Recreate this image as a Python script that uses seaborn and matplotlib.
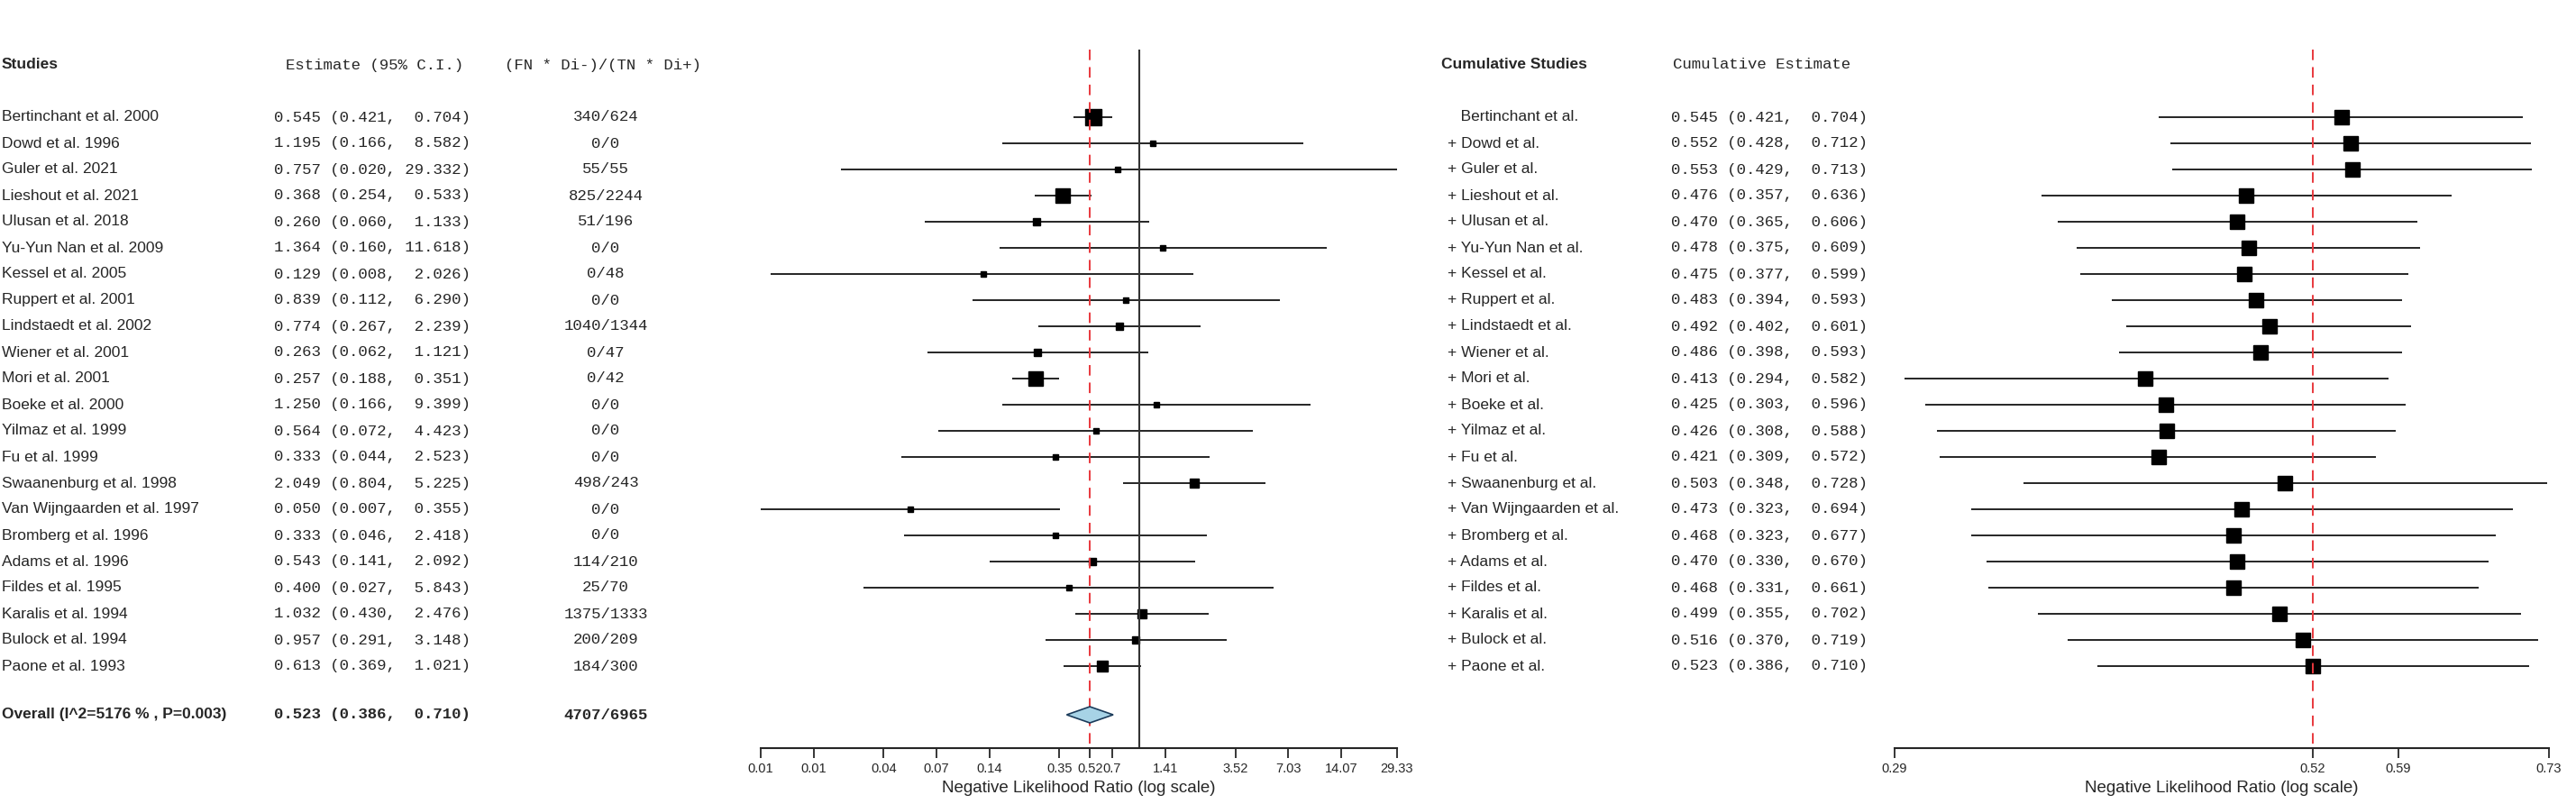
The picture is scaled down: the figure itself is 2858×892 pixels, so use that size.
import numpy as np
import pandas as pd
import matplotlib
matplotlib.use("Agg")
import matplotlib.pyplot as plt
import seaborn as sns
from matplotlib.transforms import blended_transform_factory

sns.set_style("white")

studies = pd.DataFrame({
    'name': ['Bertinchant et al. 2000', 'Dowd et al. 1996', 'Guler et al. 2021', 'Lieshout et al. 2021',
             'Ulusan et al. 2018', 'Yu-Yun Nan et al. 2009', 'Kessel et al. 2005', 'Ruppert et al. 2001',
             'Lindstaedt et al. 2002', 'Wiener et al. 2001', 'Mori et al. 2001', 'Boeke et al. 2000',
             'Yilmaz et al. 1999', 'Fu et al. 1999', 'Swaanenburg et al. 1998', 'Van Wijngaarden et al. 1997',
             'Bromberg et al. 1996', 'Adams et al. 1996', 'Fildes et al. 1995', 'Karalis et al. 1994',
             'Bulock et al. 1994', 'Paone et al. 1993'],
    'est': [0.545, 1.195, 0.757, 0.368, 0.260, 1.364, 0.129, 0.839, 0.774, 0.263, 0.257, 1.250, 0.564,
            0.333, 2.049, 0.050, 0.333, 0.543, 0.400, 1.032, 0.957, 0.613],
    'lo': [0.421, 0.166, 0.020, 0.254, 0.060, 0.160, 0.008, 0.112, 0.267, 0.062, 0.188, 0.166, 0.072,
           0.044, 0.804, 0.007, 0.046, 0.141, 0.027, 0.430, 0.291, 0.369],
    'hi': [0.704, 8.582, 29.332, 0.533, 1.133, 11.618, 2.026, 6.290, 2.239, 1.121, 0.351, 9.399, 4.423,
           2.523, 5.225, 0.355, 2.418, 2.092, 5.843, 2.476, 3.148, 1.021],
    'counts': ['340/624', '0/0', '55/55', '825/2244', '51/196', '0/0', '0/48', '0/0', '1040/1344', '0/47',
               '0/42', '0/0', '0/0', '0/0', '498/243', '0/0', '0/0', '114/210', '25/70', '1375/1333',
               '200/209', '184/300'],
    'size': [13, 5, 4, 11, 6, 5, 4, 5, 6, 6, 12, 5, 5, 5, 7, 4, 5, 6, 5, 7, 6, 9],
})

cum = pd.DataFrame({
    'est': [0.545, 0.552, 0.553, 0.476, 0.470, 0.478, 0.475, 0.483, 0.492, 0.486, 0.413, 0.425, 0.426,
            0.421, 0.503, 0.473, 0.468, 0.470, 0.468, 0.499, 0.516, 0.523],
    'lo': [0.421, 0.428, 0.429, 0.357, 0.365, 0.375, 0.377, 0.394, 0.402, 0.398, 0.294, 0.303, 0.308,
           0.309, 0.348, 0.323, 0.323, 0.330, 0.331, 0.355, 0.370, 0.386],
    'hi': [0.704, 0.712, 0.713, 0.636, 0.606, 0.609, 0.599, 0.593, 0.601, 0.593, 0.582, 0.596, 0.588,
           0.572, 0.728, 0.694, 0.677, 0.670, 0.661, 0.702, 0.719, 0.710],
})

W, H = 2858, 892
fig = plt.figure(figsize=(W / 100, H / 100), dpi=100)
rows = 130 + 29 * np.arange(len(studies))
y_head, y_all, y_axis, y_top = 72, 793, 830, 55

def make_ax(x0, x1):
    ax = fig.add_axes([x0 / W, (H - y_axis) / H, (x1 - x0) / W, (y_axis - 40) / H])
    ax.set_xscale('log')
    ax.set_ylim(y_axis, 40)
    for s in ['top', 'left', 'right']:
        ax.spines[s].set_visible(False)
    ax.spines['bottom'].set_linewidth(1.5)
    ax.set_yticks([])
    ax.tick_params(axis='x', which='both', direction='out', length=8, width=1.3, labelsize=10.5, bottom=True)
    ax.minorticks_off()
    ax.set_xlabel('Negative Likelihood Ratio (log scale)', fontsize=13.5, family='Liberation Sans', labelpad=4)
    return ax

# left forest panel
ax1 = make_ax(844, 1550)
xmin, xmax = 0.007, 29.33
ax1.set_xlim(xmin, xmax)
ax1.hlines(rows, np.clip(studies['lo'], xmin, xmax), np.clip(studies['hi'], xmin, xmax), color='black', lw=1.2)
for r, e, s in zip(rows, studies['est'], studies['size']):
    ax1.plot(e, r, marker='s', color='black', ms=s)
ax1.vlines(1.0, y_top, y_axis, color='#333333', lw=1.5)
ax1.vlines(0.523, y_top, y_axis, color='#e8383d', lw=1.4, linestyles=(0, (6, 4)))
diamond_x = [0.386, 0.523, 0.710, 0.523, 0.386]
diamond_y = [y_all, y_all - 9, y_all, y_all + 9, y_all]
ax1.fill(diamond_x, diamond_y, facecolor='#a7d3e6', edgecolor='#1b3b5a', lw=1.2, zorder=3)
ticks = [0.007, 0.014, 0.035, 0.07, 0.14, 0.35, 0.523, 0.7, 1.41, 3.52, 7.03, 14.07, 29.33]
ax1.set_xticks(ticks)
ax1.set_xticklabels(['0.01', '0.01', '0.04', '0.07', '0.14', '0.35', '0.52', '0.7', '1.41', '3.52',
                     '7.03', '14.07', '29.33'], family='Liberation Sans')

# right cumulative panel
ax2 = make_ax(2102, 2828)
ax2.set_xlim(0.29, 0.73)
ax2.hlines(rows, cum['lo'], cum['hi'], color='black', lw=1.2)
ax2.plot(cum['est'], rows, 's', color='black', ms=12)
ax2.vlines(0.523, y_top, y_axis, color='#e8383d', lw=1.4, linestyles=(0, (6, 4)))
ax2.set_xticks([0.29, 0.523, 0.59, 0.73])
ax2.set_xticklabels(['0.29', '0.52', '0.59', '0.73'], family='Liberation Sans')

# text columns
tr = blended_transform_factory(fig.transFigure, ax1.transData)
sans = dict(family='Liberation Sans', fontsize=12.5, va='center', transform=tr)
mono = dict(family='Liberation Mono', fontsize=12.5, va='center', transform=tr)

fig.text(2 / W, 0, 'Studies', fontweight='bold', **sans)
fig.text(317 / W, 0, 'Estimate (95% C.I.)', **mono)
fig.text(560 / W, 0, '(FN * Di-)/(TN * Di+)', **mono)
fig.text(1599 / W, 0, 'Cumulative Studies', fontweight='bold', **sans)
fig.text(1856 / W, 0, 'Cumulative Estimate', **mono)
for t in fig.texts:
    t.set_y(y_head)

def fmt(e, l, h):
    return f'{e:.3f} ({l:.3f}, {h:6.3f})'

for i, row in studies.iterrows():
    y = rows[i]
    fig.text(2 / W, y, row['name'], **sans)
    fig.text(304 / W, y, fmt(row['est'], row['lo'], row['hi']), **mono)
    fig.text(672 / W, y, row['counts'], ha='center', **mono)
    short = row['name'].rsplit(' ', 1)[0]
    label = ('   ' if i == 0 else '+ ') + short
    fig.text(1606 / W, y, label, **sans)
    c = cum.iloc[i]
    fig.text(1854 / W, y, fmt(c['est'], c['lo'], c['hi']), **mono)

fig.text(2 / W, y_all, 'Overall (I^2=5176 % , P=0.003)', fontweight='bold', **sans)
fig.text(304 / W, y_all, fmt(0.523, 0.386, 0.710), fontweight='bold', **mono)
fig.text(672 / W, y_all, '4707/6965', ha='center', fontweight='bold', **mono)

fig.savefig('out.png', dpi=100, facecolor='white')
